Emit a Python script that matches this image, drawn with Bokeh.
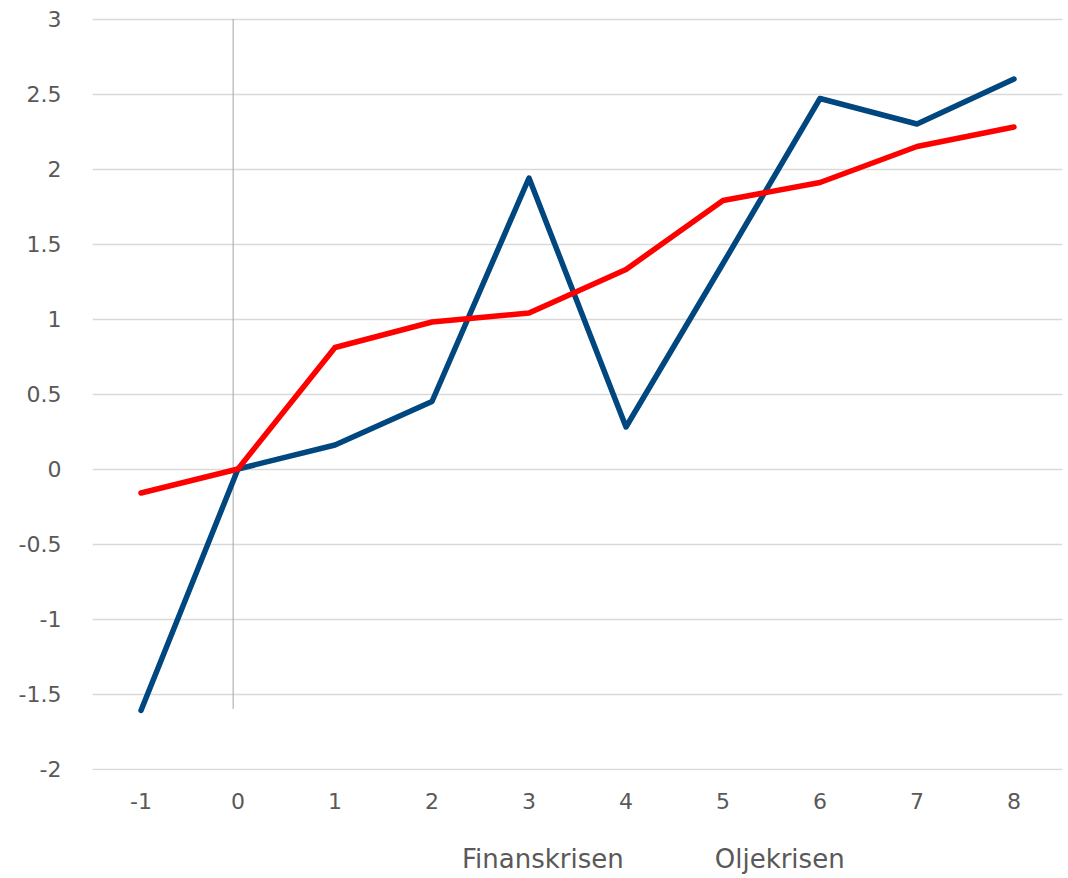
from bokeh.plotting import figure
from bokeh.models import ColumnDataSource, Legend, LegendItem, FixedTicker, Range1d
from bokeh.layouts import column
from bokeh.embed import file_html
from bokeh.resources import INLINE

quarters = [-1, 0, 1, 2, 3, 4, 5, 6, 7, 8]
finanskrisen = [-1.61, 0.0, 0.16, 0.45, 1.94, 0.28, 1.37, 2.47, 2.30, 2.60]
oljekrisen = [-0.16, 0.0, 0.81, 0.98, 1.04, 1.33, 1.79, 1.91, 2.15, 2.28]
y_ticks = [-2, -1.5, -1, -0.5, 0, 0.5, 1, 1.5, 2, 2.5, 3]
series_names = ["Finanskrisen", "Oljekrisen"]
series_colors = ["#00467f", "#ff0000"]
vline_x = -0.05
vline_bottom = -1.6

FONT = "DejaVu Sans"
GRAY = "#595959"

p = figure(width=1068, height=830,
           output_backend="svg", toolbar_location=None,
           x_range=Range1d(-1.5, 8.5), y_range=Range1d(-2.01, 3.01),
           min_border_left=92, min_border_right=6, min_border_top=17, min_border_bottom=60)
p.outline_line_color = None
p.background_fill_color = "white"

src = ColumnDataSource(dict(x=quarters, f=finanskrisen, o=oljekrisen))

# vertical reference line at 0
p.segment(x0=[vline_x], y0=[vline_bottom], x1=[vline_x], y1=[y_ticks[-1]],
          line_color="#a6a6a6", line_width=1)

p.line("x", "f", source=src, line_color=series_colors[0], line_width=5.5, line_cap="round", line_join="round")
p.line("x", "o", source=src, line_color=series_colors[1], line_width=5.5, line_cap="round", line_join="round")

p.xaxis.ticker = FixedTicker(ticks=quarters)
p.xaxis.major_label_overrides = {q: str(q) for q in quarters}
p.yaxis.ticker = FixedTicker(ticks=y_ticks)
p.yaxis.major_label_overrides = {t: (str(t) if t != int(t) else str(int(t))) for t in y_ticks}

for ax in (p.xaxis[0], p.yaxis[0]):
    ax.axis_line_color = None
    ax.major_tick_line_color = None
    ax.minor_tick_line_color = None
    ax.major_label_text_font = FONT
    ax.major_label_text_font_size = "22px"
    ax.major_label_text_color = GRAY
p.xaxis.major_label_standoff = 16
p.yaxis.major_label_standoff = 25

p.xgrid.grid_line_color = None
p.ygrid.grid_line_color = "#d9d9d9"
p.ygrid.grid_line_width = 1.5

# legend strip below the chart
lg = figure(width=1068, height=48, output_backend="svg", toolbar_location=None,
            x_range=Range1d(0, 1), y_range=Range1d(0, 1),
            x_axis_location=None, y_axis_location=None,
            min_border_left=0, min_border_right=0, min_border_top=0, min_border_bottom=0)
lg.outline_line_color = None
lg.xgrid.grid_line_color = None
lg.ygrid.grid_line_color = None
items = []
for name, col in zip(series_names, series_colors):
    r = lg.line(x=[], y=[], line_color=col, line_width=5.5, line_cap="round")
    items.append(LegendItem(label=name, renderers=[r]))

legend = Legend(items=items, orientation="horizontal", location=(313, 4),
                label_text_font=FONT, label_text_font_size="26px", label_text_color=GRAY,
                glyph_width=57, glyph_height=28, label_standoff=0, spacing=34,
                padding=0, margin=0, border_line_color=None, background_fill_alpha=0)
lg.add_layout(legend, "center")

layout = column(p, lg, spacing=0)
open("out.html", "w").write(file_html(layout, INLINE))
